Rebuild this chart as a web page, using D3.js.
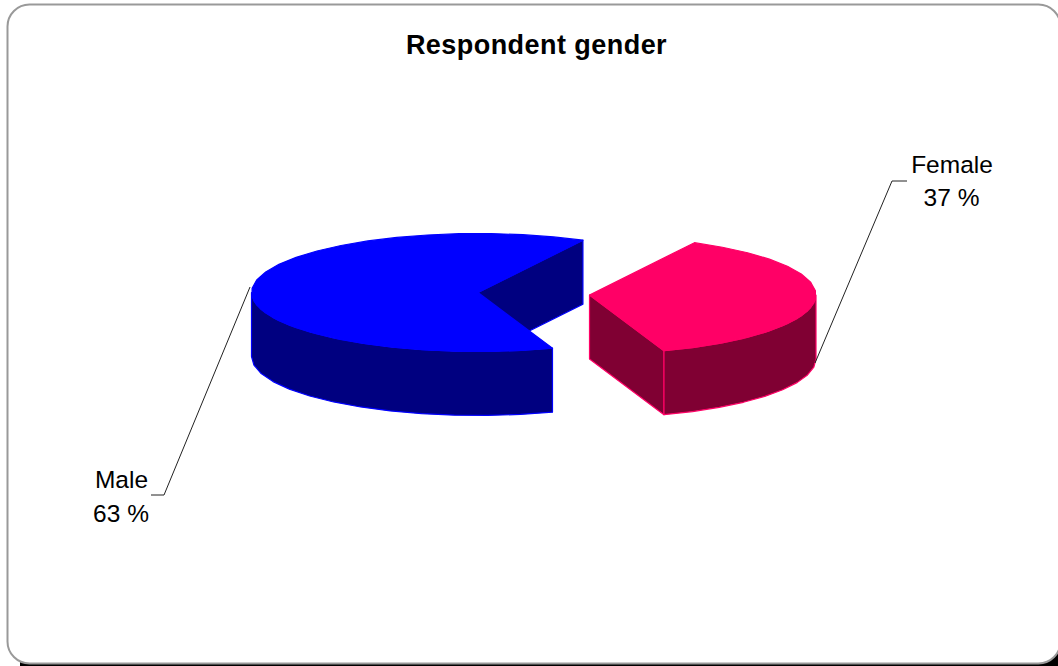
<!DOCTYPE html>
<html><head><meta charset="utf-8">
<style>html,body{margin:0;padding:0;background:#fff;overflow:hidden}svg{display:block}</style>
<script src="https://cdn.jsdelivr.net/npm/d3@7"></script></head>
<body><svg id="c" width="1058" height="666"></svg>
<script>
const categories = ["Female", "Male"];
const percents = [37, 63];
const percentLabels = ["37 %", "63 %"];
const title = "Respondent gender";
const topColors = ["#ff0066", "#0000ff"];
const wallColors = ["#800033", "#000080"];
const centers = [[589.5, 295], [478, 292.5]];
const labelAnchors = [[952, 172.5], [121.5, 488]];
const leaders = [
  [[815, 363], [892, 181], [907, 181]],
  [[250, 287], [164, 495], [151, 495]]
];

const rx = 226.5, ry = 59, depth = 64;
const rot = 27.6 * Math.PI / 180;
const svg = d3.select("#c");
const slices = d3.pie().sort(null).startAngle(rot).endAngle(rot + 2 * Math.PI)(percents);
const line = d3.line();

// frame: black shadow under the bottom-right, the white panel runs off the right side
svg.append("rect").attr("x", 20).attr("y", 100).attr("width", 1040).attr("height", 566).attr("fill", "#000");
svg.append("rect").attr("x", 7.5).attr("y", 4.5).attr("width", 1053).attr("height", 659).attr("rx", 22)
  .attr("fill", "#fff").attr("stroke", "#999").attr("stroke-width", 2);

const px = (c, a) => [c[0] + rx * Math.sin(a), c[1] - ry * Math.cos(a)];
const down = p => [p[0], p[1] + depth];
const arcPts = (c, a0, a1) => {
  const n = Math.max(2, Math.round((a1 - a0) / (Math.PI / 22)));
  return d3.range(n + 1).map(i => px(c, a0 + (a1 - a0) * i / n));
};

slices.forEach((s, i) => {
  const c = centers[i], a0 = s.startAngle, a1 = s.endAngle;
  const g = svg.append("g").attr("stroke", topColors[i]).attr("stroke-width", 1.2).attr("stroke-linejoin", "round");
  const wall = pts => g.append("path").attr("d", line(pts) + "Z").attr("fill", wallColors[i]);
  // the flat cut wall at the end of each slice faces the viewer
  const cut = px(c, a1);
  wall([c, cut, down(cut), down(c)]);
  // outer rim, front half of the ellipse only
  const rim = arcPts(c, Math.max(a0, Math.PI / 2), Math.min(a1, 3 * Math.PI / 2));
  wall(rim.concat(rim.slice().reverse().map(down)));
  // top face
  g.append("path").attr("d", line([c].concat(arcPts(c, a0, a1))) + "Z").attr("fill", topColors[i]);
});

leaders.forEach(l => svg.append("path").attr("d", line(l)).attr("fill", "none").attr("stroke", "#222").attr("stroke-width", 1));

const font = "'Liberation Sans', Arial, sans-serif";
svg.append("text").attr("x", 536.5).attr("y", 54).attr("text-anchor", "middle")
  .attr("font-family", font).attr("font-size", 27).attr("letter-spacing", 0.45).attr("font-weight", "bold").attr("fill", "#000").text(title);
categories.forEach((c, i) => {
  const t = svg.append("text").attr("text-anchor", "middle").attr("font-family", font).attr("font-size", 24.5).attr("fill", "#000");
  t.append("tspan").attr("x", labelAnchors[i][0]).attr("y", labelAnchors[i][1]).text(c);
  t.append("tspan").attr("x", labelAnchors[i][0] - 0.5).attr("y", labelAnchors[i][1] + 33.5).text(percentLabels[i]);
});
</script></body></html>
